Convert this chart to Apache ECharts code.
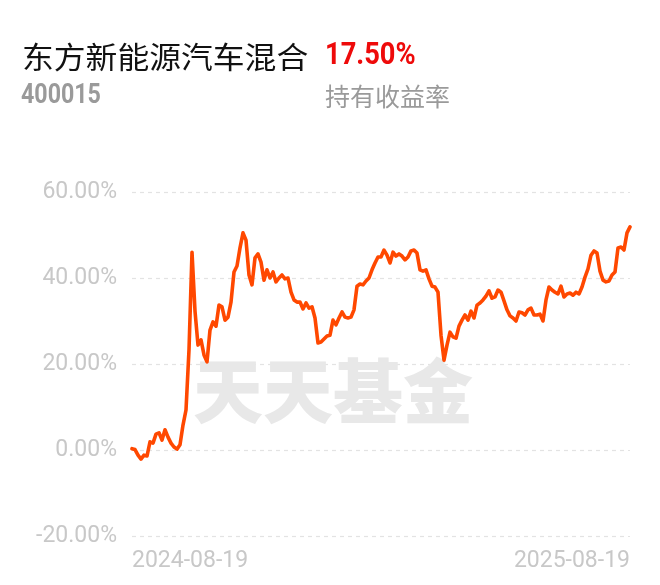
<!DOCTYPE html>
<html>
<head>
<meta charset="utf-8">
<script src="https://cdn.jsdelivr.net/npm/echarts@6/dist/echarts.min.js"></script>
<style>
  html, body { margin: 0; padding: 0; background: #ffffff; }
  #chart { width: 660px; height: 585px; }
</style>
</head>
<body>
<div id="chart"></div>
<script>
// ---- data ----
const fundName = '东方新能源汽车混合';
const fundCode = '400015';
const holdReturn = '17.50%';
const holdReturnLabel = '持有收益率';
const watermarkText = '天天基金';
const xTickLabels = ['2024-08-19', '2025-08-19'];
const yTicks = [-20, 0, 20, 40, 60];

// cumulative return (%) sampled evenly from 2024-08-19 to 2025-08-19
const returnValues = [
  0.3, 0.1, -1.2, -2.1, -1.2, -1.4, 1.9, 1.6, 3.7, 4.0,
  2.3, 4.7, 3.0, 1.6, 0.7, 0.2, 1.2, 5.8, 9.3, 23.3,
  46.0, 32.3, 24.4, 25.6, 22.1, 20.5, 27.9, 29.8, 28.8, 33.7,
  33.3, 30.2, 30.9, 34.4, 41.4, 42.8, 47.0, 50.5, 48.8, 40.7,
  38.4, 44.7, 45.6, 43.7, 39.5, 41.9, 40.0, 41.4, 39.1, 40.0,
  40.7, 39.8, 40.0, 36.7, 34.9, 34.4, 34.4, 32.8, 34.2, 33.0,
  33.3, 30.7, 24.9, 25.1, 25.8, 26.5, 26.7, 30.2, 29.1, 30.7,
  32.1, 30.9, 30.7, 30.9, 32.6, 38.1, 38.6, 38.4, 39.3, 40.0,
  41.9, 43.5, 44.9, 44.9, 46.5, 45.3, 43.5, 46.0, 45.1, 45.6,
  45.1, 44.2, 44.9, 46.3, 46.5, 45.8, 41.9, 41.6, 41.9, 39.8,
  38.1, 37.9, 36.7, 26.7, 20.9, 24.4, 27.4, 26.3, 26.0, 28.8,
  30.2, 31.4, 30.2, 32.3, 30.7, 33.7, 34.2, 34.9, 35.8, 37.0,
  35.3, 35.6, 37.2, 36.7, 34.7, 32.6, 31.2, 30.7, 30.0, 32.1,
  31.9, 31.4, 32.6, 33.0, 31.4, 31.4, 31.6, 30.0, 34.9, 37.9,
  37.2, 36.7, 36.3, 38.1, 35.6, 36.3, 36.5, 36.0, 36.7, 36.3,
  37.9, 40.2, 42.1, 45.3, 46.3, 45.8, 41.6, 39.5, 39.1, 39.3,
  40.7, 41.4, 47.0, 47.2, 46.5, 50.5, 51.9
];

const categories = returnValues.map((_, i) => String(i));
const lastIdx = returnValues.length - 1;

const chart = echarts.init(document.getElementById('chart'), null, { renderer: 'canvas' });

const option = {
  animation: false,
  backgroundColor: '#ffffff',
  grid: { left: 132, right: 30, top: 192, bottom: 49, containLabel: false },
  xAxis: {
    type: 'category',
    data: categories,
    boundaryGap: false,
    axisLine: { show: false },
    axisTick: { show: false },
    splitLine: { show: false },
    axisLabel: {
      interval: (idx) => idx === 0 || idx === lastIdx,
      showMinLabel: true,
      showMaxLabel: true,
      alignMinLabel: 'left',
      alignMaxLabel: 'right',
      margin: 14,
      color: '#c8c8c8',
      fontSize: 23,
      fontFamily: 'Roboto',
      formatter: (val) => {
        const i = Number(val);
        if (i === 0) return xTickLabels[0];
        if (i === lastIdx) return xTickLabels[1];
        return '';
      }
    }
  },
  yAxis: {
    type: 'value',
    min: yTicks[0],
    max: yTicks[yTicks.length - 1],
    interval: 20,
    axisLine: { show: false },
    axisTick: { show: false },
    splitLine: { show: true, lineStyle: { color: '#e3e3e3', width: 1.2, type: [4, 4] } },
    axisLabel: {
      margin: 15,
      color: '#c8c8c8',
      fontSize: 23,
      fontFamily: 'Roboto',
      formatter: (v) => v.toFixed(2) + '%'
    }
  },
  graphic: [
    {
      type: 'text', left: 193, top: 356, z: 1, silent: true,
      style: { text: watermarkText, fontSize: 70, fontWeight: 900, fontFamily: 'Noto Sans CJK SC', fill: '#e8e8e8' }
    },
    {
      type: 'text', x: 22, y: 57, scaleX: 1.06, z: 10,
      style: { text: fundName, fontSize: 30, fontFamily: 'Noto Sans CJK SC', fill: '#111111', verticalAlign: 'middle', align: 'left' }
    },
    {
      type: 'text', x: 325, y: 56, scaleX: 0.88, z: 10,
      style: { text: holdReturn, fontSize: 31, fontWeight: 'bold', fontFamily: 'Roboto', fill: '#ee0a0a', verticalAlign: 'middle', align: 'left' }
    },
    {
      type: 'text', x: 21, y: 96, scaleX: 0.86, z: 10,
      style: { text: fundCode, fontSize: 27, fontWeight: 'bold', fontFamily: 'Roboto', fill: '#9a9a9a', verticalAlign: 'middle', align: 'left' }
    },
    {
      type: 'text', x: 325, y: 96, z: 10,
      style: { text: holdReturnLabel, fontSize: 25, fontFamily: 'Noto Sans CJK SC', fill: '#9a9a9a', verticalAlign: 'middle', align: 'left' }
    }
  ],
  series: [
    {
      type: 'line',
      data: returnValues,
      showSymbol: false,
      symbol: 'none',
      smooth: false,
      z: 5,
      lineStyle: { color: '#ff4800', width: 3.6, join: 'round', cap: 'round' }
    }
  ]
};

chart.setOption(option);
</script>
</body>
</html>
